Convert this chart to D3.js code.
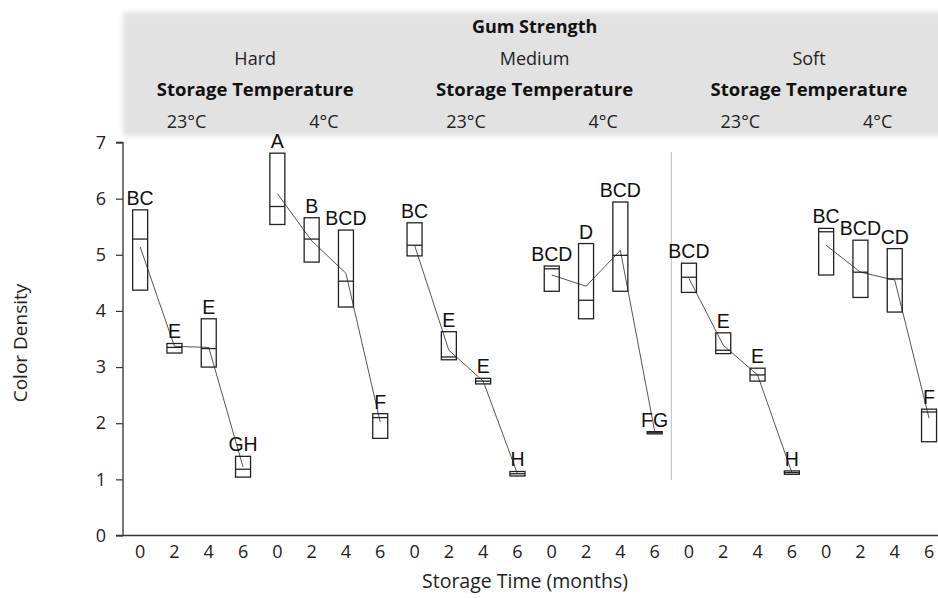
<!DOCTYPE html>
<html><head><meta charset="utf-8">
<script src="https://cdn.jsdelivr.net/npm/d3@7"></script>
<style>
body{margin:0;background:#fff;}
svg{display:block;}
</style></head>
<body>
<svg id="chart" width="938" height="598"></svg>
<script>
// ---- data ----
const strengths = ["Hard", "Medium", "Soft"];
const temps = ["23°C", "4°C"];
const times = [0, 2, 4, 6];
const yTicks = [0, 1, 2, 3, 4, 5, 6, 7];
// order: Hard 23°C t0..t6, Hard 4°C t0..t6, Medium 23°C ..., Soft 4°C
const boxTop    = [5.80, 3.42, 3.86, 1.41,  6.81, 5.66, 5.44, 2.17,
                   5.57, 3.63, 2.80, 1.14,  4.80, 5.20, 5.94, 1.85,
                   4.85, 3.61, 2.98, 1.15,  5.47, 5.26, 5.11, 2.25];
const boxBottom = [4.37, 3.25, 3.00, 1.04,  5.54, 4.87, 4.07, 1.73,
                   4.98, 3.13, 2.70, 1.06,  4.35, 3.86, 4.35, 1.81,
                   4.33, 3.24, 2.75, 1.09,  4.64, 4.24, 3.98, 1.67];
const medians   = [5.28, 3.35, 3.33, 1.18,  5.86, 5.28, 4.53, 2.10,
                   5.17, 3.18, 2.75, 1.10,  4.75, 4.19, 4.99, 1.83,
                   4.60, 3.30, 2.86, 1.12,  5.41, 4.69, 4.57, 2.20];
const means     = [5.14, 3.37, 3.35, 1.22,  6.09, 5.25, 4.67, 2.02,
                   5.17, 3.30, 2.75, 1.10,  4.64, 4.44, 5.08, 1.86,
                   4.58, 3.39, 2.86, 1.12,  5.17, 4.69, 4.55, 2.09];
const letters   = ["BC","E","E","GH",  "A","B","BCD","F",
                   "BC","E","E","H",   "BCD","D","BCD","FG",
                   "BCD","E","E","H",  "BC","BCD","CD","F"];

// ---- build records ----
const rows = [];
strengths.forEach((s, si) => temps.forEach((t, ti) => times.forEach((tm, k) => {
  const i = si * 8 + ti * 4 + k;
  rows.push({i, s, t, tm, top: boxTop[i], bot: boxBottom[i], med: medians[i], mean: means[i], lab: letters[i], grp: si * 2 + ti});
})));

const svg = d3.select("#chart");
const L = 123, B = 535.5, T = 142.5, slotW = 34.3;
const x = d3.scaleBand().domain(d3.range(24)).range([L, L + 24 * slotW]).paddingInner(0).paddingOuter(0);
const y = d3.scaleLinear().domain([0, 7]).range([B, T]);
const bw = 15;
const cx = i => x(i) + x.bandwidth() / 2;

// header band (soft edges)
const defs = svg.append("defs");
defs.append("filter").attr("id", "soft").attr("x", "-5%").attr("y", "-10%").attr("width", "110%").attr("height", "120%")
  .append("feGaussianBlur").attr("stdDeviation", 2.5);
svg.append("rect").attr("x", L).attr("y", 12).attr("width", 938 - L + 10).attr("height", 124)
  .attr("fill", "#e2e2e2").attr("filter", "url(#soft)");

const hf = "'Open Sans', sans-serif";
svg.append("text").attr("x", (cx(0) + cx(23)) / 2).attr("y", 33).attr("text-anchor", "middle")
  .attr("font-family", hf).attr("font-weight", "bold").attr("font-size", 18).attr("fill", "#111").text("Gum Strength");
strengths.forEach((s, si) => {
  const c = (cx(si * 8) + cx(si * 8 + 7)) / 2 - (si === 0 ? 5 : 0);
  svg.append("text").attr("x", c).attr("y", 65).attr("text-anchor", "middle")
    .attr("font-family", hf).attr("font-size", 18).attr("fill", "#222").text(s);
  svg.append("text").attr("x", c).attr("y", 96).attr("text-anchor", "middle")
    .attr("font-family", hf).attr("font-weight", "bold").attr("font-size", 18.5).attr("fill", "#111").text("Storage Temperature");
  temps.forEach((t, ti) => {
    const c2 = (cx(si * 8 + ti * 4) + cx(si * 8 + ti * 4 + 3)) / 2 - (si === 0 ? 5 : 0);
    svg.append("text").attr("x", c2).attr("y", 128).attr("text-anchor", "middle")
      .attr("font-family", hf).attr("font-size", 18).attr("fill", "#222").text(t);
  });
});

// separator between Medium and Soft
svg.append("line").attr("x1", x(16) - 0.5).attr("x2", x(16) - 0.5).attr("y1", 152).attr("y2", 480)
  .attr("stroke", "#bbb").attr("stroke-width", 1);

// axes
const yAxis = svg.append("g").attr("transform", `translate(${L},0)`)
  .call(d3.axisLeft(y).tickValues(yTicks).tickSize(7).tickPadding(10).tickFormat(d3.format("d")));
yAxis.select(".domain").attr("stroke", "#333").attr("stroke-width", 1.3).attr("d", `M-7,${T}H0V${B}`);
yAxis.selectAll(".tick line").attr("stroke", "#333").attr("stroke-width", 1.2);
yAxis.selectAll("text").attr("font-family", hf).attr("font-size", 18).attr("fill", "#222");

const xAxis = svg.append("g").attr("transform", `translate(0,${B})`)
  .call(d3.axisBottom(x).tickSize(0).tickPadding(10).tickFormat(i => times[i % 4]));
xAxis.select(".domain").attr("stroke", "#333").attr("stroke-width", 1.3).attr("d", `M${L - 7},0H938`);
xAxis.selectAll("text").attr("font-family", hf).attr("font-size", 18).attr("fill", "#222");

// axis titles
svg.append("text").attr("transform", "translate(27,343) rotate(-90)").attr("text-anchor", "middle")
  .attr("font-family", hf).attr("font-size", 19).attr("fill", "#222").text("Color Density");
svg.append("text").attr("x", 525).attr("y", 588).attr("text-anchor", "middle")
  .attr("font-family", hf).attr("font-size", 19.5).attr("fill", "#222").text("Storage Time (months)");

// mean lines per group
const line = d3.line().x(d => cx(d.i)).y(d => y(d.mean));
d3.groups(rows, d => d.grp).forEach(([g, arr]) => {
  svg.append("path").attr("d", line(arr)).attr("fill", "none").attr("stroke", "#555").attr("stroke-width", 1);
});

// boxes
const gb = svg.append("g");
gb.selectAll("rect.box").data(rows).join("rect").attr("class", "box")
  .attr("x", d => cx(d.i) - bw / 2).attr("width", bw)
  .attr("y", d => y(d.top)).attr("height", d => Math.max(1, y(d.bot) - y(d.top)))
  .attr("fill", "none").attr("stroke", "#222").attr("stroke-width", 1.3);
gb.selectAll("line.med").data(rows).join("line").attr("class", "med")
  .attr("x1", d => cx(d.i) - bw / 2).attr("x2", d => cx(d.i) + bw / 2)
  .attr("y1", d => y(d.med)).attr("y2", d => y(d.med))
  .attr("stroke", "#222").attr("stroke-width", 1.3);

// letters
gb.selectAll("text.lab").data(rows).join("text").attr("class", "lab")
  .attr("x", d => cx(d.i)).attr("y", d => y(d.top) - 5).attr("text-anchor", "middle")
  .attr("font-family", "'Liberation Sans', Arial, sans-serif").attr("font-size", 19.5).attr("fill", "#111")
  .text(d => d.lab);
</script>
</body></html>
